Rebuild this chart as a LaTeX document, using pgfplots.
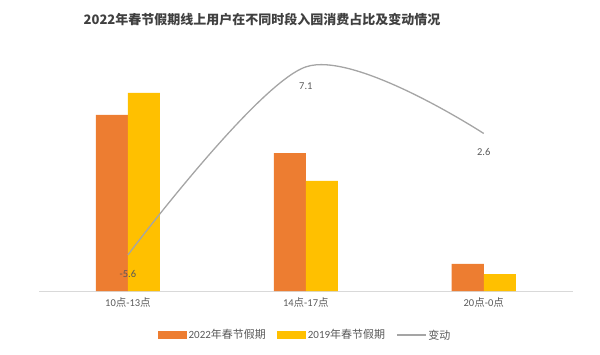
\documentclass[border=0pt]{standalone}
\usepackage{pgfplots}
\pgfplotsset{compat=1.18}
\usepackage{fontspec}
\setmainfont{Carlito}
\newfontfamily\cjk{Noto Sans CJK SC}
\definecolor{cOrange}{HTML}{ED7D31}
\definecolor{cYellow}{HTML}{FFC000}
\definecolor{cGray}{HTML}{A5A5A5}
\definecolor{cText}{HTML}{595959}
\definecolor{cTitle}{HTML}{404040}
\definecolor{cAxis}{HTML}{D9D9D9}
\begin{document}
\begin{tikzpicture}
\begin{axis}[
  scale only axis, width=533.7bp, height=237bp,
  xmin=-0.5, xmax=2.5, ymin=0, ymax=60.3,
  axis x line*=bottom, axis y line=none,
  axis line style={-, draw=cAxis, line width=0.9bp},
  xtick={0,1,2},
  xticklabels={{10{\cjk 点}-13{\cjk 点}},{14{\cjk 点}-17{\cjk 点}},{20{\cjk 点}-0{\cjk 点}}},
  major tick length=0pt,
  xticklabel style={font=\fontsize{10.5bp}{12bp}\selectfont, text=cText, yshift=-3bp},
  ybar, bar width=0.18,
  clip=false,
  legend columns=3,
  legend style={draw=none, fill=none, at={(0.4985,-0.186)}, anchor=center,
    font=\fontsize{11bp}{13bp}\selectfont, text=cText,
    /tikz/every even column/.append style={column sep=9bp}},
]
\addplot[fill=cOrange, draw=none, bar shift=-0.09,
  legend image code/.code={\fill[cOrange] (0bp,-4bp) rectangle (29bp,4bp);}]
  coordinates {(0,44.8) (1,35.1) (2,6.9)};
\addlegendentry{2022{\cjk 年春节假期}}
\addplot[fill=cYellow, draw=none, bar shift=0.09,
  legend image code/.code={\fill[cYellow] (0bp,-4bp) rectangle (29bp,4bp);}]
  coordinates {(0,50.4) (1,28.0) (2,4.3)};
\addlegendentry{2019{\cjk 年春节假期}}
\addlegendimage{legend image code/.code={\draw[cGray, line width=1.3bp] (0bp,0bp) -- (29bp,0bp);}}
\addlegendentry{{\cjk 变动}}
\coordinate (ll) at (rel axis cs:0,0);
\coordinate (ur) at (rel axis cs:1,1);
\end{axis}
\begin{axis}[
  scale only axis, width=533.7bp, height=237bp,
  xmin=-0.5, xmax=2.5, ymin=-8.04, ymax=7.97,
  hide axis, clip=false,
]
\addplot[cGray, line width=1.3bp, smooth, mark=none,
  point meta=explicit symbolic,
  nodes near coords,
  every node near coord/.append style={anchor=center, yshift=-19bp, text=cText,
    font=\fontsize{10.5bp}{12bp}\selectfont}]
  coordinates {(0,-5.6) [-5.6] (1,7.1) [7.1] (2,2.6) [2.6]};
\end{axis}
\node[font=\cjk\bfseries\fontsize{13bp}{16bp}\selectfont, text=cTitle]
  at ([shift={(223bp,34bp)}]ll |- ur) {2022年春节假期线上用户在不同时段入园消费占比及变动情况};
\path[use as bounding box] ([shift={(-39bp,-64bp)}]ll) rectangle ([shift={(27.3bp,54bp)}]ur);
\end{tikzpicture}
\end{document}
